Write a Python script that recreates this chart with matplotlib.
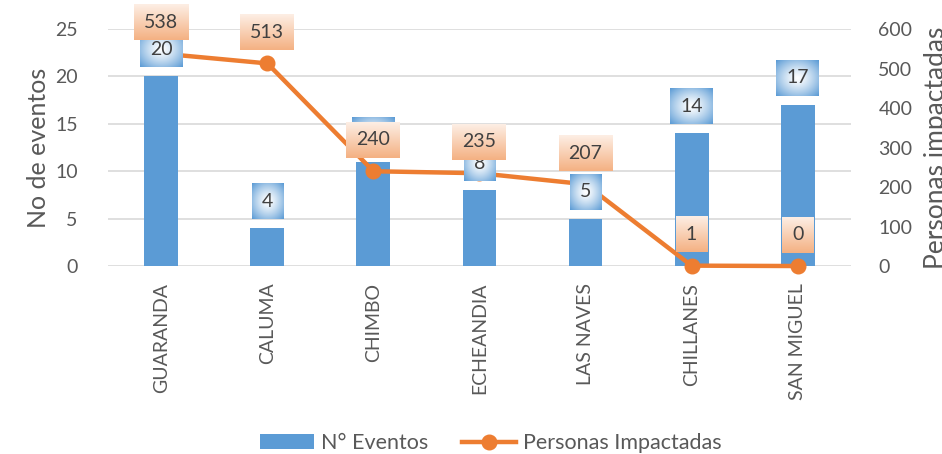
import matplotlib.pyplot as plt
import numpy as np
from matplotlib.image import BboxImage
from matplotlib.transforms import Bbox
from matplotlib.colors import to_rgb

plt.rcParams["font.family"] = ["Lato", "DejaVu Sans"]

cantones = ["GUARANDA", "CALUMA", "CHIMBO", "ECHEANDIA", "LAS NAVES", "CHILLANES", "SAN MIGUEL"]
eventos = [20, 4, 11, 8, 5, 14, 17]
personas = [538, 513, 240, 235, 207, 1, 0]

GRAY = "#595959"
BLUE = "#5b9bd5"
ORANGE = "#ed7d31"


def blue_gradient(h=40, w=40):
    # white centre fading to blue at the edges
    v, u = np.mgrid[-1:1:h * 1j, -1:1:w * 1j]
    t = np.clip(np.sqrt(u**2 + v**2) / np.sqrt(2), 0, 1) ** 1.3
    c0, c1 = np.array([1.0, 1.0, 1.0]), np.array(to_rgb("#5b9bd5"))
    return c0 * (1 - t[..., None]) + c1 * t[..., None]


def orange_gradient(h=40, w=40):
    # light peach on top, stronger orange at the bottom
    t = np.linspace(0, 1, h)[:, None, None] * np.ones((1, w, 1))
    c0, c1 = np.array(to_rgb("#fdeee4")), np.array(to_rgb("#f4b183"))
    return c0 * (1 - t) + c1 * t


def add_label(ax, xy, text, dy, grad, xycoords, z):
    txt = ax.annotate(text, xy, xycoords=xycoords, xytext=(0, dy), textcoords="offset points",
                      ha="center", va="center", fontsize=14, color="#404040", zorder=z + 0.1,
                      annotation_clip=False)
    txt.set_clip_on(False)

    def box(renderer, t=txt):
        e = t.get_window_extent(renderer)
        w = e.width + 20
        cx, cy = (e.x0 + e.x1) / 2, (e.y0 + e.y1) / 2
        return Bbox.from_bounds(cx - w / 2, cy - 18, w, 36)

    img = BboxImage(box, data=grad, interpolation="bilinear", zorder=z)
    img.set_clip_on(False)
    ax.add_artist(img)


fig = plt.figure(figsize=(9.42, 4.54), dpi=100)
ax = fig.add_axes([0.115, 0.414, 0.788, 0.522])
ax2 = ax.twinx()

x = np.arange(len(cantones))
ax.bar(x, eventos, width=0.32, color=BLUE, label="N° Eventos", zorder=2)
ax2.plot(x, personas, color=ORANGE, lw=3.2, marker="o", ms=10.5, label="Personas Impactadas",
         zorder=3, clip_on=False)

ax.set_xlim(-0.5, len(cantones) - 0.5)
ax.set_ylim(0, 25)
ax2.set_ylim(0, 600)
ax.set_yticks(range(0, 26, 5))
ax2.set_yticks(range(0, 601, 100))
ax.grid(axis="y", color="#d9d9d9", lw=1.2, zorder=0)
ax.set_axisbelow(True)

for a in (ax, ax2):
    for s in a.spines.values():
        s.set_visible(False)
    a.tick_params(length=0, colors=GRAY, labelsize=14)
ax.tick_params(axis="y", pad=22)
ax2.tick_params(axis="y", pad=20)
ax.set_xticks(x)
ax.set_xticklabels(cantones, rotation=90, fontsize=14)
ax.tick_params(axis="x", pad=12)

ax.set_ylabel("No de eventos", color=GRAY, fontsize=18, labelpad=4)
ax2.set_ylabel("Personas impactadas", color=GRAY, fontsize=19, labelpad=8)

# data labels: bar labels under the line labels, both above the line
gb, go = blue_gradient(), orange_gradient()
for xi, v in zip(x, eventos):
    add_label(ax2, (xi, v), str(v), 19.5, gb, ax.transData, 4)
for xi, v in zip(x, personas):
    add_label(ax2, (xi, v), str(v), 22.5, go, "data", 5)

h1, l1 = ax.get_legend_handles_labels()
h2, l2 = ax2.get_legend_handles_labels()
fig.legend(h1 + h2, l1 + l2, loc="center", bbox_to_anchor=(0.521, 0.024), ncol=2,
           frameon=False, fontsize=15.5, labelcolor=GRAY, handlelength=2.5, columnspacing=1.6,
           handletextpad=0.3)

fig.savefig("out.png", dpi=100)
